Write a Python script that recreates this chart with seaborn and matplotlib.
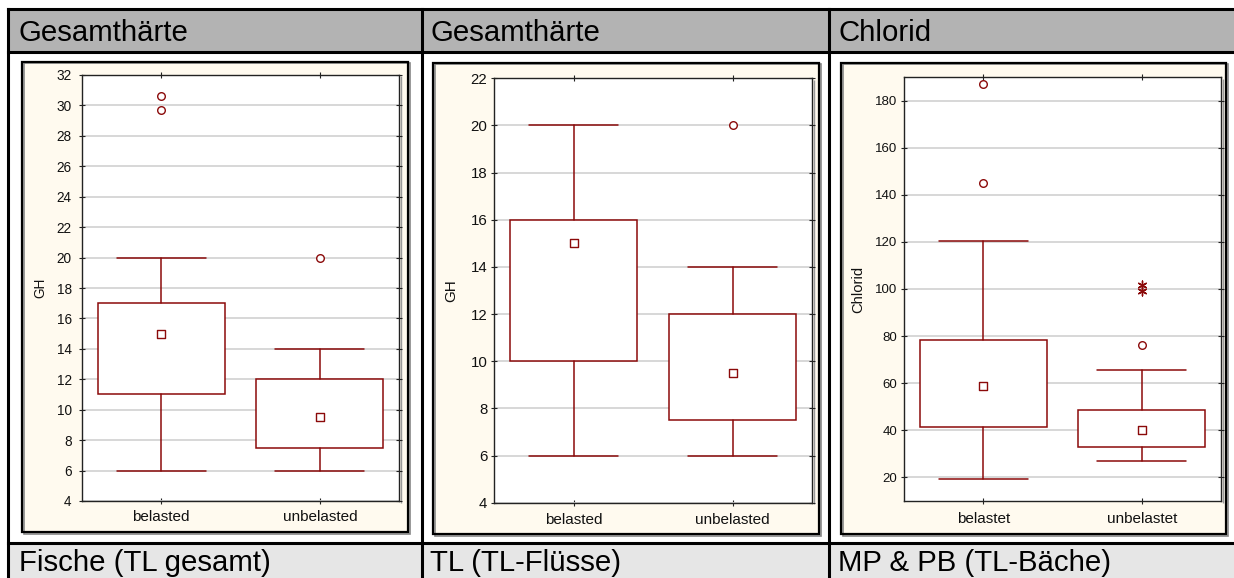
import matplotlib
matplotlib.use("Agg")
import matplotlib.pyplot as plt
from matplotlib.patches import Rectangle
from matplotlib.lines import Line2D
import seaborn as sns

# ---------------- data ----------------
headers = ["Gesamthärte", "Gesamthärte", "Chlorid"]
footers = ["Fische (TL gesamt)", "TL (TL-Flüsse)", "MP & PB (TL-Bäche)"]
ylabels = ["GH", "GH", "Chlorid"]

cats1 = ["belasted", "unbelasted"]
med1 = [15, 9.5]
q1_1 = [11, 7.5]
q3_1 = [17, 12]
lo1 = [6, 6]
hi1 = [20, 14]
out1 = [[30.6, 29.7], [20]]
ext1 = [[], []]

cats2 = ["belasted", "unbelasted"]
med2 = [15, 9.5]
q1_2 = [10, 7.5]
q3_2 = [16, 12]
lo2 = [6, 6]
hi2 = [20, 14]
out2 = [[], [20]]
ext2 = [[], []]

cats3 = ["belastet", "unbelastet"]
med3 = [58.7, 40]
q1_3 = [41.5, 33.0]
q3_3 = [78.5, 48.5]
lo3 = [19.2, 26.8]
hi3 = [120.3, 65.7]
out3 = [[145, 187], [76.3]]
ext3 = [[], [99.0, 101.5]]

yticks1 = list(range(4, 33, 2))
yticks2 = list(range(4, 23, 2))
yticks3 = list(range(20, 181, 20))
ylims = [(4, 32), (4, 22), (10, 190)]

# ---------------- style ----------------
sns.set_theme(style="white")
plt.rcParams["font.family"] = ["Liberation Sans", "DejaVu Sans"]

W, H = 1234, 578
fig = plt.figure(figsize=(W / 100, H / 100), dpi=100)
fig.patch.set_facecolor("white")

RED = "#8B0A0A"


def fx(x):
    return x / W


def fy(y):
    return 1 - y / H


def rect(x0, y0, x1, y1, **kw):
    fig.add_artist(Rectangle((fx(x0), fy(y1)), fx(x1) - fx(x0), fy(y0) - fy(y1),
                             transform=fig.transFigure, **kw))


def line(x0, y0, x1, y1, lw=2.2, color="black", z=5):
    fig.add_artist(Line2D([fx(x0), fx(x1)], [fy(y0), fy(y1)], transform=fig.transFigure,
                          color=color, lw=lw, zorder=z, solid_capstyle="projecting"))


# table backgrounds
rect(8, 9, W, 52, facecolor="#B3B3B3", edgecolor="none", zorder=0)
rect(8, 543, W, H, facecolor="#E6E6E6", edgecolor="none", zorder=0)
line(8, 9, W, 9)
line(8, 52, W, 52)
line(8, 543, W, 543)
for xv in [8, 421.5, 828.5]:
    line(xv, 9, xv, H)

# cream panels
panels = [(22, 61.5, 408, 532), (433, 63, 819, 534), (841, 63, 1226, 534)]
for (x0, y0, x1, y1) in panels:
    rect(x0, y0, x1, y1, facecolor="#FFFAEF", edgecolor="none", zorder=1)
    rect(x0 + 1.5, y0 + 1.5, x1 + 1.5, y1 + 1.5, facecolor="none", edgecolor="#888888", lw=1.2, zorder=2)
    rect(x0, y0, x1, y1, facecolor="none", edgecolor="black", lw=1.6, zorder=2)

# header / footer texts
hx = [19, 430, 838]
for i in range(3):
    fig.text(fx(hx[i]), fy(41), headers[i], fontsize=21.2, color="black",
             ha="left", va="baseline", zorder=6)
    fig.text(fx(hx[i]), fy(571), footers[i], fontsize=21.2, color="black",
             ha="left", va="baseline", zorder=6)

# axes
axes_px = [(81.7, 75, 399.3, 501), (494, 78.3, 812, 502.7), (904, 77, 1221, 501)]
all_data = [
    (cats1, med1, q1_1, q3_1, lo1, hi1, out1, ext1, yticks1),
    (cats2, med2, q1_2, q3_2, lo2, hi2, out2, ext2, yticks2),
    (cats3, med3, q1_3, q3_3, lo3, hi3, out3, ext3, yticks3),
]
ytick_fs = [9.8, 10.8, 9.5]
ylabel_fs = [9.8, 11, 10.6]
ylabel_x = [-0.131, -0.133, -0.145]
ypads = [5.2, 2.8, 2.8]
xpads = [4.5, 5.6, 5.6]

for i, (l, t, r, b) in enumerate(axes_px):
    cats, med, q1, q3, lo, hi, outs, exts, yt = all_data[i]
    ax = fig.add_axes([fx(l), fy(b), fx(r) - fx(l), fy(t) - fy(b)], zorder=3)
    ax.set_facecolor("white")
    # shadow of plot frame
    rect(r + 1.5, t + 1.5, r + 1.5, b + 1.5, facecolor="none", edgecolor="#999999", lw=1.0, zorder=2.5)
    stats = []
    for k in range(len(cats)):
        stats.append(dict(med=med[k], q1=q1[k], q3=q3[k], whislo=lo[k], whishi=hi[k],
                          fliers=[], label=cats[k]))
    pos = list(range(len(cats)))
    ax.bxp(stats, positions=pos, widths=0.8, capwidths=0.56, patch_artist=True,
           showfliers=False,
           boxprops=dict(facecolor="white", edgecolor=RED, linewidth=1.1),
           whiskerprops=dict(color=RED, linewidth=1.1),
           capprops=dict(color=RED, linewidth=1.1),
           medianprops=dict(linewidth=0))
    # median squares
    sns.scatterplot(x=pos, y=med, marker="s", s=30, facecolor="white", edgecolor=RED,
                    linewidth=1.0, ax=ax, zorder=5, legend=False)
    # outliers / extremes
    ox, oy = [], []
    ex, ey = [], []
    for k in range(len(cats)):
        ox += [pos[k]] * len(outs[k])
        oy += outs[k]
        ex += [pos[k]] * len(exts[k])
        ey += exts[k]
    if oy:
        sns.scatterplot(x=ox, y=oy, marker="o", s=30, facecolor="white", edgecolor=RED,
                        linewidth=1.0, ax=ax, zorder=5, legend=False)
    if ey:
        sns.scatterplot(x=ex, y=ey, marker=(6, 2, 0), s=40, color=RED,
                        linewidth=1.0, ax=ax, zorder=5, legend=False)
    ax.set_xlim(-0.5, len(cats) - 0.5)
    ax.set_ylim(*ylims[i])
    ax.set_yticks(yt)
    ax.set_xticks(pos)
    ax.set_xticklabels(cats)
    ax.yaxis.grid(True, color="#D4D4D4", linewidth=1.3, zorder=0)
    ax.xaxis.grid(False)
    ax.set_axisbelow(True)
    for s in ax.spines.values():
        s.set_color("#222222")
        s.set_linewidth(1.0)
        s.set_visible(True)
    ax.tick_params(axis="y", direction="inout", length=4, width=0.8, color="#222222",
                   left=True, right=True, labelsize=ytick_fs[i], labelcolor="#111111",
                   pad=ypads[i])
    ax.tick_params(axis="x", direction="inout", length=4, width=0.8, color="#222222",
                   bottom=True, top=True, labelsize=11, labelcolor="#111111", pad=xpads[i])
    ax.set_xlabel("")
    ax.set_ylabel(ylabels[i], fontsize=ylabel_fs[i], color="#111111", va="center")
    ax.yaxis.set_label_coords(ylabel_x[i], 0.5)

fig.savefig("out.png", dpi=100, facecolor="white")
